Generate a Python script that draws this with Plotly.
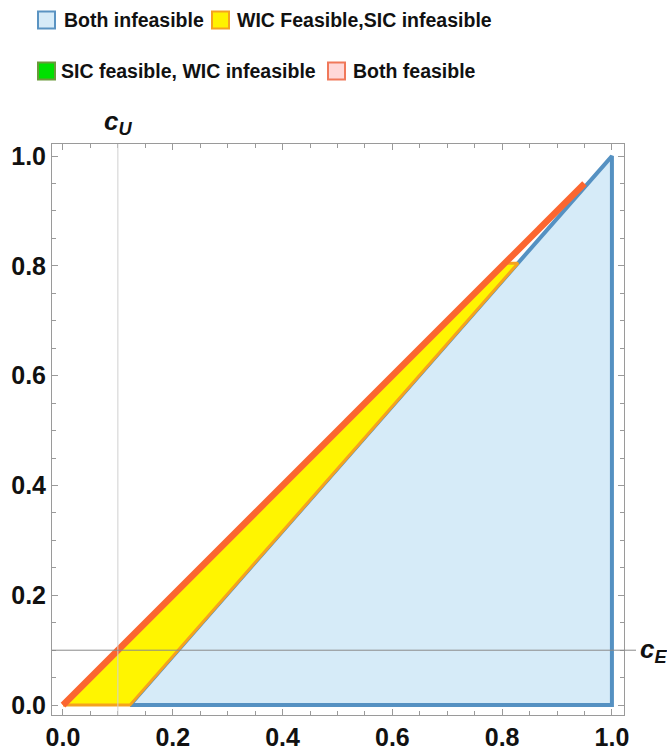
import plotly.graph_objects as go

# Region boundaries in the (c_E, c_U) plane
both_infeasible_ce = [0.122, 1.0, 1.0, 0.122]
both_infeasible_cu = [0.0, 0.0, 1.0, 0.0]

wic_only_ce = [0.0, 0.122, 0.829, 0.805, 0.0]
wic_only_cu = [0.0, 0.0, 0.805, 0.805, 0.0]

both_feasible_ce = [0.0, 0.95]
both_feasible_cu = [0.0, 0.95]

axis_origin = [0.1, 0.1]  # (c_E, c_U) where the axes cross
tick_values = [0.0, 0.2, 0.4, 0.6, 0.8, 1.0]
tick_labels = ["0.0", "0.2", "0.4", "0.6", "0.8", "1.0"]

legend_labels = ["Both infeasible", "WIC Feasible,SIC infeasible",
                 "SIC feasible, WIC infeasible", "Both feasible"]
legend_fills = ["#d6ebf8", "#fff200", "#00e000", "#ffd8d8"]
legend_edges = ["#5a93c2", "#f5a21f", "#6a9a3a", "#f0785a"]

FONT = "Liberation Sans"
FRAME = "#9a9a9a"

fig = go.Figure()

fig.add_trace(go.Scatter(
    x=both_infeasible_ce, y=both_infeasible_cu, mode="lines", fill="toself",
    fillcolor="#d6ebf8", line=dict(color="#5591c2", width=4),
    showlegend=False, hoverinfo="skip"))

fig.add_trace(go.Scatter(
    x=wic_only_ce, y=wic_only_cu, mode="lines", fill="toself",
    fillcolor="#fff500", line=dict(color="#f5a21f", width=3),
    showlegend=False, hoverinfo="skip"))

fig.add_trace(go.Scatter(
    x=both_feasible_ce, y=both_feasible_cu, mode="lines",
    line=dict(color="#fb6630", width=6.5),
    showlegend=False, hoverinfo="skip"))

# Axis lines crossing at the origin point
fig.add_shape(type="line", xref="x", yref="paper", x0=axis_origin[0], x1=axis_origin[0],
              y0=0, y1=1, line=dict(color="#d0d0d0", width=1), layer="above")
fig.add_shape(type="line", xref="paper", yref="y", x0=0, x1=1.021,
              y0=axis_origin[1], y1=axis_origin[1], line=dict(color="#8a8a8a", width=1),
              layer="above")

# Plot-area geometry in pixels, used to place the legend block
L, R, T, B = 52, 624, 144, 715
W, H = R - L, B - T


def px_x(px):
    return (px - L) / W


def px_y(py):
    return (B - py) / H


legend_rows = [(20, [(38, 65), (212, 238)]), (71, [(38, 62), (328, 354)])]
k = 0
for yc, items in legend_rows:
    for sx, tx in items:
        fig.add_shape(type="rect", xref="paper", yref="paper",
                      x0=px_x(sx), x1=px_x(sx + 17), y0=px_y(yc + 8.5), y1=px_y(yc - 8.5),
                      fillcolor=legend_fills[k], line=dict(color=legend_edges[k], width=2))
        fig.add_annotation(xref="paper", yref="paper", x=px_x(tx - 3), y=px_y(yc),
                           xanchor="left", yanchor="middle", showarrow=False,
                           text=legend_labels[k],
                           font=dict(family=FONT, size=19.5, color="#111", weight="bold"))
        k += 1

# Axis labels
fig.add_annotation(xref="x", yref="paper", x=axis_origin[0], y=px_y(122),
                   xanchor="center", yanchor="middle", showarrow=False,
                   text="<i>c</i><sub><i>U</i></sub>",
                   font=dict(family=FONT, size=26, color="#111", weight="bold"))
fig.add_annotation(xref="paper", yref="y", x=px_x(638), y=axis_origin[1],
                   xanchor="left", yanchor="middle", showarrow=False,
                   text="<i>c</i><sub><i>E</i></sub>",
                   font=dict(family=FONT, size=26, color="#111", weight="bold"))

axis_common = dict(
    tickvals=tick_values, ticktext=tick_labels,
    ticks="inside", ticklen=6, tickwidth=1, tickcolor=FRAME,
    showline=True, linecolor=FRAME, linewidth=1, mirror="ticks",
    showgrid=False, zeroline=False, automargin=False,
    minor=dict(tick0=0, dtick=0.05, ticks="inside", ticklen=4, tickcolor=FRAME, showgrid=False),
    tickfont=dict(family=FONT, size=25, color="#111", weight="bold"),
)

fig.update_layout(
    width=667, height=750,
    margin=dict(l=L, r=667 - R, t=T, b=750 - B),
    plot_bgcolor="white", paper_bgcolor="white",
    xaxis=dict(range=[-0.02, 1.022], **axis_common),
    yaxis=dict(range=[-0.018, 1.022], **axis_common),
    showlegend=False,
)

fig.write_html("out.html")
